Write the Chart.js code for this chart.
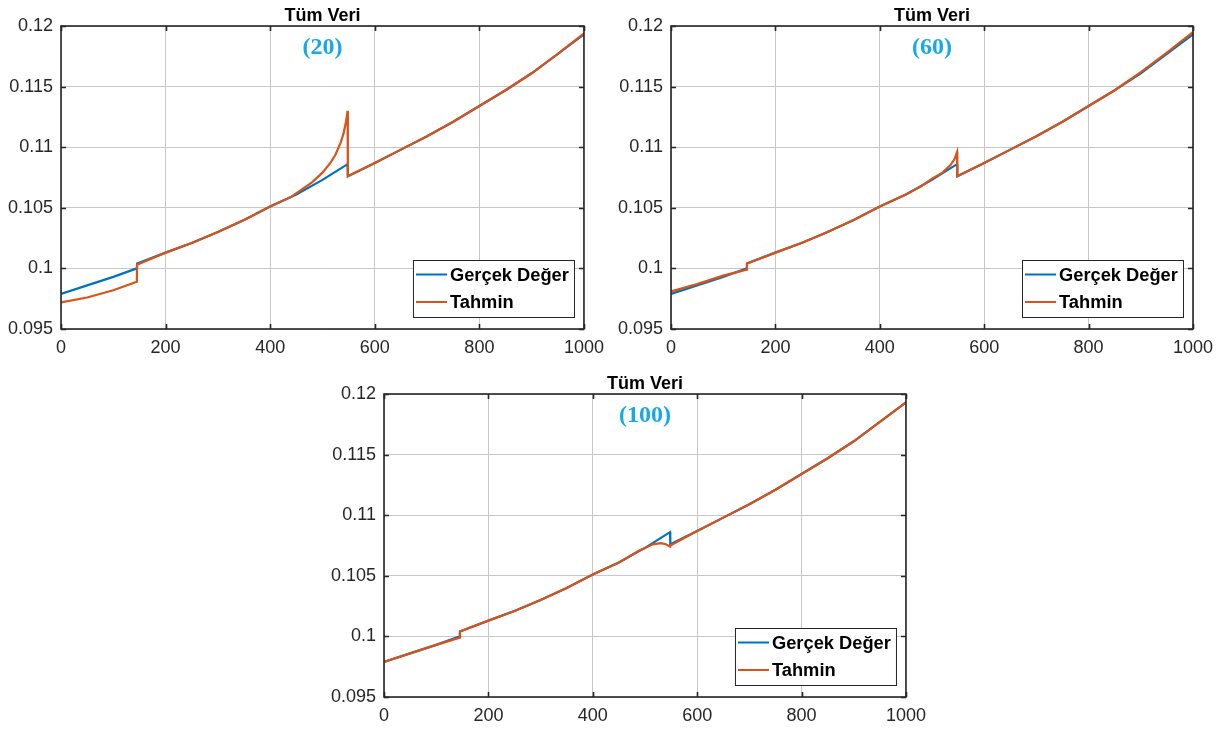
<!DOCTYPE html>
<html>
<head>
<meta charset="utf-8">
<script src="https://cdn.jsdelivr.net/npm/chart.js@4.4.0/dist/chart.umd.min.js"></script>
<style>
  html, body { margin: 0; padding: 0; background: #ffffff; }
  body { width: 1222px; height: 733px; position: relative; overflow: hidden; }
  .wrap { position: absolute; }
</style>
</head>
<body>
<div class="wrap" style="left:0px;top:0px;width:612px;height:366px;"><canvas id="c1"></canvas></div>
<div class="wrap" style="left:610px;top:0px;width:612px;height:366px;"><canvas id="c2"></canvas></div>
<div class="wrap" style="left:323px;top:368px;width:611px;height:365px;"><canvas id="c3"></canvas></div>
<script>
// ---- Data ----
const chartTitle = "Tüm Veri";
const seriesNames = ["Gerçek Değer", "Tahmin"];
const panelTags = ["(20)", "(60)", "(100)"];
const yTicks = [0.095, 0.1, 0.105, 0.11, 0.115, 0.12];
const xTicks = [0, 200, 400, 600, 800, 1000];

// Actual values (same in all panels)
const trueX = [0, 50, 100, 145, 145.5, 200, 250, 300, 350, 400, 450, 500, 548, 548.5, 600, 650, 700, 750, 800, 850, 900, 950, 1000];
const trueY = [0.0979, 0.0986, 0.0993, 0.1000, 0.1004, 0.1013, 0.1021, 0.1030, 0.1040, 0.1051, 0.1061, 0.1073, 0.1086, 0.1076, 0.1087, 0.1098, 0.1109, 0.1121, 0.1134, 0.1147, 0.1161, 0.1177, 0.1193];

// Predictions, panel (20)
const pred20X = [0, 50, 100, 145, 145.5, 200, 250, 300, 350, 400, 440, 460, 480, 500, 515, 525, 535, 540, 545, 548, 548.5, 600, 650, 700, 750, 800, 850, 900, 950, 1000];
const pred20Y = [0.0972, 0.0976, 0.0982, 0.0989, 0.1003, 0.1013, 0.1021, 0.1030, 0.1040, 0.1051, 0.1059, 0.1065, 0.1071, 0.1079, 0.1087, 0.1094, 0.1104, 0.1111, 0.1121, 0.1130, 0.1076, 0.1087, 0.1098, 0.1109, 0.1121, 0.1134, 0.1147, 0.1161, 0.1177, 0.1194];

// Predictions, panel (60)
const pred60X = [0, 50, 100, 145, 145.5, 200, 250, 300, 350, 400, 450, 480, 500, 520, 535, 543, 548, 548.5, 600, 650, 700, 750, 800, 850, 900, 950, 1000];
const pred60Y = [0.0981, 0.0987, 0.0994, 0.0999, 0.1004, 0.1013, 0.1021, 0.1030, 0.1040, 0.1051, 0.1061, 0.1068, 0.1074, 0.1079, 0.1085, 0.1090, 0.1096, 0.1076, 0.1087, 0.1098, 0.1109, 0.1121, 0.1134, 0.1147, 0.1162, 0.1178, 0.1195];

// Predictions, panel (100)
const pred100X = [0, 50, 100, 145, 145.5, 200, 250, 300, 350, 400, 450, 490, 500, 515, 530, 540, 548, 548.5, 600, 650, 700, 750, 800, 850, 900, 950, 1000];
const pred100Y = [0.0979, 0.0986, 0.0993, 0.0999, 0.1004, 0.1013, 0.1021, 0.1030, 0.1040, 0.1051, 0.1061, 0.1071, 0.1073, 0.1076, 0.1077, 0.1076, 0.1074, 0.1075, 0.1087, 0.1098, 0.1109, 0.1121, 0.1134, 0.1147, 0.1161, 0.1177, 0.1193];

// ---- Styling ----
const BLUE = "#0072BD";
const ORANGE = "#D95319";
const AXIS = "#262626";
const GRID = "#c8c8c8";
const SANS = "'Liberation Sans', Arial, sans-serif";

function pts(xs, ys) { return xs.map((x, i) => ({ x: x, y: ys[i] })); }

const framePlugin = {
  id: 'matlabFrame',
  afterDraw(chart, args, opts) {
    const ctx = chart.ctx;
    const a = chart.chartArea;
    const xs = chart.scales.x, ys = chart.scales.y;
    ctx.save();
    ctx.strokeStyle = AXIS;
    ctx.lineWidth = 1.6;
    ctx.strokeRect(a.left, a.top, a.right - a.left, a.bottom - a.top);
    const tl = 5;
    ctx.beginPath();
    xTicks.forEach(v => {
      const px = Math.round(xs.getPixelForValue(v)) + 0.5;
      ctx.moveTo(px, a.bottom); ctx.lineTo(px, a.bottom - tl);
      ctx.moveTo(px, a.top); ctx.lineTo(px, a.top + tl);
    });
    yTicks.forEach(v => {
      const py = Math.round(ys.getPixelForValue(v)) + 0.5;
      ctx.moveTo(a.left, py); ctx.lineTo(a.left + tl, py);
      ctx.moveTo(a.right, py); ctx.lineTo(a.right - tl, py);
    });
    ctx.lineWidth = 1.6;
    ctx.stroke();
    const cx = (a.left + a.right) / 2;
    ctx.fillStyle = "#000000";
    ctx.font = "bold 18px " + SANS;
    ctx.textAlign = "center";
    ctx.textBaseline = "alphabetic";
    ctx.fillText(chartTitle, cx, a.top - 5);
    ctx.fillStyle = "#17a9e6";
    ctx.font = "bold 24px 'Liberation Serif', 'Times New Roman', serif";
    ctx.fillText(opts.tag, cx, a.top + 28);
    const w = 161, h = 57;
    const bx = a.right - 10 - w, by = a.bottom - 12 - h;
    ctx.fillStyle = "#ffffff";
    ctx.fillRect(bx, by, w, h);
    ctx.strokeStyle = AXIS;
    ctx.lineWidth = 1;
    ctx.strokeRect(bx + 0.5, by + 0.5, w, h);
    const rows = [by + 14.5, by + 42];
    chart.data.datasets.slice().sort((p, q) => p.legendIndex - q.legendIndex).forEach((ds, i) => {
      ctx.strokeStyle = ds.borderColor;
      ctx.lineWidth = 2;
      ctx.beginPath();
      ctx.moveTo(bx + 3, rows[i]); ctx.lineTo(bx + 34, rows[i]);
      ctx.stroke();
      ctx.fillStyle = "#000000";
      ctx.font = "bold 18.3px " + SANS;
      ctx.textAlign = "left";
      ctx.textBaseline = "middle";
      ctx.fillText(ds.label, bx + 37, rows[i] + 1);
    });
    ctx.restore();
  }
};

function makeChart(id, predX, predY, tag, bottomH, padRight) {
  return new Chart(document.getElementById(id), {
    type: 'line',
    data: {
      datasets: [
        { label: seriesNames[1], legendIndex: 1, order: 0, data: pts(predX, predY), borderColor: ORANGE, backgroundColor: ORANGE, borderWidth: 2.2, pointRadius: 0, tension: 0, fill: false },
        { label: seriesNames[0], legendIndex: 0, order: 1, data: pts(trueX, trueY), borderColor: BLUE, backgroundColor: BLUE, borderWidth: 2.2, pointRadius: 0, tension: 0, fill: false }
      ]
    },
    options: {
      responsive: true,
      maintainAspectRatio: false,
      animation: false,
      events: [],
      layout: { padding: { top: 26, right: padRight, left: 0, bottom: 0 } },
      plugins: {
        legend: { display: false },
        title: { display: false },
        tooltip: { enabled: false },
        matlabFrame: { tag: tag }
      },
      scales: {
        x: {
          type: 'linear',
          min: 0, max: 1000,
          afterBuildTicks(s) { s.ticks = xTicks.map(v => ({ value: v })); },
          afterFit(s) { s.height = bottomH; },
          grid: { color: GRID, lineWidth: 1, drawTicks: false },
          border: { display: false },
          ticks: { padding: 8, color: AXIS, font: { family: SANS, size: 18 }, maxRotation: 0, callback: v => String(v) }
        },
        y: {
          type: 'linear',
          min: 0.095, max: 0.12,
          afterBuildTicks(s) { s.ticks = yTicks.map(v => ({ value: v })); },
          afterFit(s) { s.width = 61; },
          grid: { color: GRID, lineWidth: 1, drawTicks: false },
          border: { display: false },
          ticks: { padding: 8, color: AXIS, font: { family: SANS, size: 18 }, callback: v => String(Number(v.toFixed(3))) }
        }
      }
    },
    plugins: [framePlugin]
  });
}

makeChart('c1', pred20X, pred20Y, panelTags[0], 37, 28);
makeChart('c2', pred60X, pred60Y, panelTags[1], 37, 29);
makeChart('c3', pred100X, pred100Y, panelTags[2], 36, 28);
</script>
</body>
</html>
